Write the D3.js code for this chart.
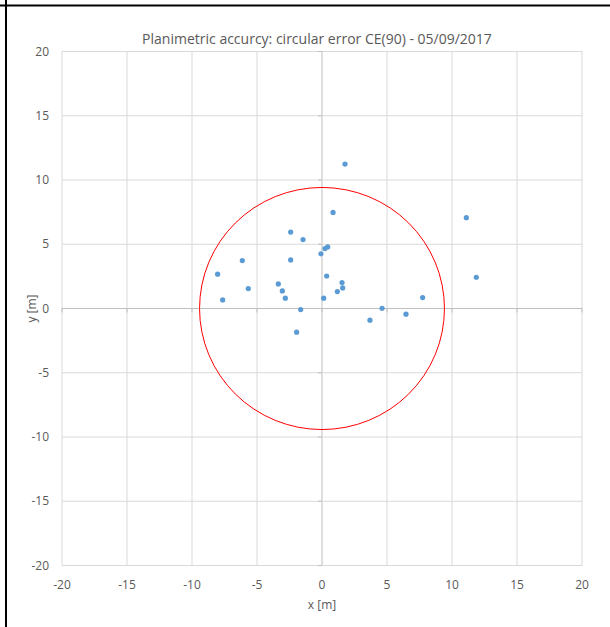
<!DOCTYPE html>
<html>
<head>
<meta charset="utf-8">
<script src="https://cdn.jsdelivr.net/npm/d3@7"></script>
<style>
  body { margin: 0; background: #fff; }
  svg text { font-family: "Open Sans", "Liberation Sans", sans-serif; fill: #595959; }
</style>
</head>
<body>
<div id="vis"></div>
<script>
// measured points (x, y in metres)
var xVals = [1.77, 0.85, 11.1, -2.41, -1.46, 0.23, 0.44, -0.08, -6.13, -2.41, -8.03, 0.36, 1.54, 1.59,
             1.18, -3.36, -3.05, -2.82, -5.67, -7.64, 0.13, 7.74, 4.62, -1.64, 6.46, 3.69, -1.95, 11.87];
var yVals = [11.24, 7.48, 7.07, 5.95, 5.36, 4.66, 4.79, 4.25, 3.73, 3.78, 2.67, 2.53, 2.02, 1.6,
             1.32, 1.91, 1.37, 0.8, 1.55, 0.67, 0.8, 0.85, 0.02, -0.08, -0.44, -0.91, -1.84, 2.43];
var ce90 = 9.42;
var ticks = [-20, -15, -10, -5, 0, 5, 10, 15, 20];
var title = "Planimetric accurcy: circular error CE(90) - 05/09/2017";

var points = xVals.map(function(d, i) { return {x: d, y: yVals[i]}; });

var W = 610, H = 627;
var svg = d3.select("#vis").append("svg")
  .attr("width", W).attr("height", H);

// page frame lines
svg.append("line").attr("x1", 0).attr("x2", W).attr("y1", 5.5).attr("y2", 5.5)
  .attr("stroke", "#000").attr("stroke-width", 2);
svg.append("line").attr("x1", 6).attr("x2", 6).attr("y1", 0).attr("y2", H)
  .attr("stroke", "#000").attr("stroke-width", 2);

var x = d3.scaleLinear().domain([-20, 20]).range([62, 582]);
var y = d3.scaleLinear().domain([-20, 20]).range([565.5, 51.5]);

// grid
var grid = svg.append("g");
grid.selectAll(".gx").data(ticks).enter().append("line")
  .attr("x1", function(d) { return x(d); }).attr("x2", function(d) { return x(d); })
  .attr("y1", y(20)).attr("y2", y(-20))
  .attr("stroke", function(d) { return d === 0 ? "#bfbfbf" : "#d9d9d9"; })
  .attr("stroke-width", 1);
grid.selectAll(".gy").data(ticks).enter().append("line")
  .attr("y1", function(d) { return y(d); }).attr("y2", function(d) { return y(d); })
  .attr("x1", x(-20)).attr("x2", x(20))
  .attr("stroke", function(d) { return d === 0 ? "#bfbfbf" : "#d9d9d9"; })
  .attr("stroke-width", 1);

// small tick marks on zero axes
grid.selectAll(".tx").data(ticks).enter().append("line")
  .attr("x1", function(d) { return x(d); }).attr("x2", function(d) { return x(d); })
  .attr("y1", y(0)).attr("y2", y(0) + 4).attr("stroke", "#bfbfbf");
grid.selectAll(".ty").data(ticks).enter().append("line")
  .attr("y1", function(d) { return y(d); }).attr("y2", function(d) { return y(d); })
  .attr("x1", x(0) - 4).attr("x2", x(0)).attr("stroke", "#bfbfbf");

// tick labels
svg.selectAll(".xl").data(ticks).enter().append("text")
  .attr("x", function(d) { return x(d); })
  .attr("y", 589)
  .attr("text-anchor", "middle")
  .attr("font-size", 12)
  .text(function(d) { return d; });
svg.selectAll(".yl").data(ticks).enter().append("text")
  .attr("x", 49)
  .attr("y", function(d) { return y(d) + 4; })
  .attr("text-anchor", "end")
  .attr("font-size", 12)
  .text(function(d) { return d; });

// CE90 circle
svg.append("ellipse")
  .attr("cx", x(0)).attr("cy", y(0))
  .attr("rx", x(ce90) - x(0)).attr("ry", y(0) - y(ce90))
  .attr("fill", "none").attr("stroke", "#ff0000").attr("stroke-width", 1);

// points
svg.append("g").selectAll("circle").data(points).enter().append("circle")
  .attr("cx", function(d) { return x(d.x); })
  .attr("cy", function(d) { return y(d.y); })
  .attr("r", 2.6)
  .attr("fill", "#5b9bd5");

// titles
svg.append("text")
  .attr("x", 317).attr("y", 44)
  .attr("text-anchor", "middle")
  .attr("font-size", 14)
  .text(title);
svg.append("text")
  .attr("x", x(0)).attr("y", 609)
  .attr("text-anchor", "middle")
  .attr("font-size", 12)
  .text("x [m]");
svg.append("text")
  .attr("transform", "translate(36," + y(0) + ") rotate(-90)")
  .attr("text-anchor", "middle")
  .attr("font-size", 12)
  .text("y [m]");
</script>
</body>
</html>
